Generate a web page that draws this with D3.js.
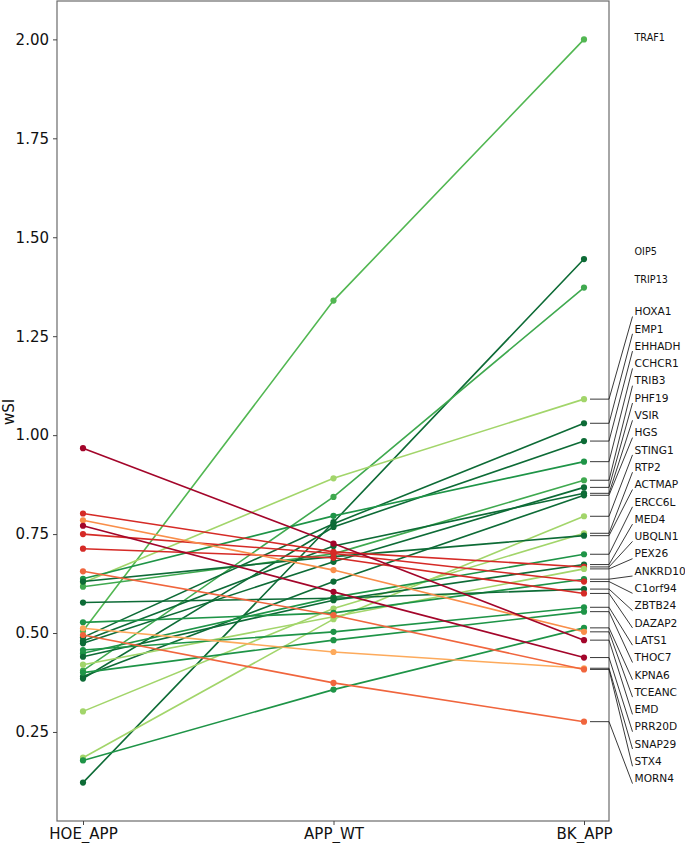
<!DOCTYPE html>
<html>
<head>
<meta charset="utf-8">
<script src="https://cdn.jsdelivr.net/npm/d3@7"></script>
<style>
  body { margin: 0; background: #fff; }
  text { font-family: "DejaVu Sans", sans-serif; }
</style>
</head>
<body>
<div id="wrapper"></div>
<script>
// 1. Data

const conditions = ["HOE_APP", "APP_WT", "BK_APP"];

const genes = [
  "TRAF1", "OIP5", "TRIP13", "HOXA1", "EMP1", "EHHADH", "CCHCR1", "TRIB3",
  "PHF19", "VSIR", "HGS", "STING1", "RTP2", "ACTMAP", "ERCC6L", "MED4",
  "UBQLN1", "PEX26", "ANKRD10", "C1orf94", "ZBTB24", "DAZAP2", "LATS1",
  "THOC7", "KPNA6", "TCEANC", "EMD", "PRR20D", "SNAP29", "STX4", "MORN4"
];

const hoeApp = [
  0.505, 0.122, 0.405, 0.627, 0.489, 0.385, 0.637, 0.617,
  0.474, 0.480, 0.390, 0.185, 0.302, 0.630, 0.449, 0.440,
  0.802, 0.420, 0.527, 0.750, 0.577, 0.713, 0.457,
  0.400, 0.178, 0.785, 0.967, 0.771, 0.512, 0.656, 0.495
];

const appWt = [
  1.340, 0.780, 0.844, 0.891, 0.776, 0.768, 0.796, 0.700,
  0.680, 0.720, 0.630, 0.535, 0.562, 0.693, 0.590, 0.583,
  0.705, 0.541, 0.551, 0.701, 0.588, 0.690, 0.503,
  0.482, 0.357, 0.659, 0.726, 0.604, 0.452, 0.545, 0.374
];

const bkApp = [
  2.000, 1.445, 1.373, 1.091, 1.030, 0.985, 0.933, 0.886,
  0.868, 0.853, 0.848, 0.795, 0.752, 0.746, 0.699, 0.673,
  0.667, 0.662, 0.636, 0.630, 0.611, 0.600, 0.565,
  0.554, 0.513, 0.503, 0.482, 0.438, 0.411, 0.408, 0.276
];

const yTicks = [0.25, 0.5, 0.75, 1.0, 1.25, 1.5, 1.75, 2.0];

// line colours (styling, kept apart from the values)
const palette = {
  dg: "#0d6b36", g: "#1e9447", mg: "#3fa94f", tg: "#52b752", lg: "#a2d56a",
  dr: "#a3052a", r: "#d52a26", or: "#f0653d", o: "#f98e4a", lo: "#fdaa5c"
};
const geneColor = {
  TRAF1: "tg", OIP5: "dg", TRIP13: "mg", HOXA1: "lg", EMP1: "dg", EHHADH: "dg",
  CCHCR1: "g", TRIB3: "mg", PHF19: "dg", VSIR: "dg", HGS: "dg", STING1: "lg",
  RTP2: "lg", ACTMAP: "dg", ERCC6L: "g", MED4: "dg", UBQLN1: "r", PEX26: "lg",
  ANKRD10: "g", C1orf94: "r", ZBTB24: "dg", DAZAP2: "r", LATS1: "g", THOC7: "g",
  KPNA6: "g", TCEANC: "o", EMD: "dr", PRR20D: "dr", SNAP29: "lo", STX4: "or",
  MORN4: "or"
};

const dataset = genes.map((gene, i) => ({
  gene,
  values: [hoeApp[i], appWt[i], bkApp[i]],
}));

// 2. Dimensions

let dimensions = {
  width: 685,
  height: 843,
  margin: { top: 1, right: 76, bottom: 22, left: 57 },
};
dimensions.boundedWidth = dimensions.width - dimensions.margin.left - dimensions.margin.right;
dimensions.boundedHeight = dimensions.height - dimensions.margin.top - dimensions.margin.bottom;

// 3. Canvas

const wrapper = d3.select("#wrapper")
  .append("svg")
    .attr("width", dimensions.width)
    .attr("height", dimensions.height);

const bounds = wrapper.append("g")
    .attr("transform", `translate(${dimensions.margin.left}, ${dimensions.margin.top})`);

// 4. Scales

const xScale = d3.scalePoint()
  .domain(conditions)
  .range([26, dimensions.boundedWidth - 25]);

const yScale = d3.scaleLinear()
  .domain([0.025, 2.097])
  .range([dimensions.boundedHeight, 0]);

const lineGenerator = d3.line()
  .x((d, i) => xScale(conditions[i]))
  .y(d => yScale(d));

// 5. Data

const series = bounds.append("g")
  .selectAll("g")
  .data(dataset)
  .join("g")
    .attr("fill", d => palette[geneColor[d.gene]])
    .attr("stroke", d => palette[geneColor[d.gene]]);

series.append("path")
    .attr("d", d => lineGenerator(d.values))
    .attr("fill", "none")
    .attr("stroke-width", 1.6);

series.selectAll("circle")
  .data(d => d.values)
  .join("circle")
    .attr("cx", (d, i) => xScale(conditions[i]))
    .attr("cy", d => yScale(d))
    .attr("r", 3.1)
    .attr("stroke", "none");

// frame
bounds.append("rect")
    .attr("width", dimensions.boundedWidth)
    .attr("height", dimensions.boundedHeight)
    .attr("fill", "none")
    .attr("stroke", "#6b6b6b")
    .attr("stroke-width", 1.2);

// 6. Axes

const yAxisGenerator = d3.axisLeft(yScale)
  .tickValues(yTicks)
  .tickFormat(d3.format(".2f"))
  .tickSizeOuter(0)
  .tickSize(4)
  .tickPadding(4);

const yAxis = bounds.append("g").call(yAxisGenerator);
yAxis.select(".domain").remove();
yAxis.selectAll("line").attr("stroke", "#444");
yAxis.selectAll("text")
    .attr("font-size", 15)
    .attr("font-family", "DejaVu Sans")
    .attr("fill", "#111");

const xAxisGenerator = d3.axisBottom(xScale)
  .tickSizeOuter(0)
  .tickSize(4)
  .tickPadding(3);

const xAxis = bounds.append("g")
    .attr("transform", `translate(0, ${dimensions.boundedHeight})`)
    .call(xAxisGenerator);
xAxis.select(".domain").remove();
xAxis.selectAll("line").attr("stroke", "#444");
xAxis.selectAll("text")
    .attr("font-size", 15)
    .attr("font-family", "DejaVu Sans")
    .attr("fill", "#111");

wrapper.append("text")
    .attr("transform", `translate(14, 412) rotate(-90)`)
    .attr("text-anchor", "middle")
    .attr("font-size", 15)
    .attr("fill", "#111")
    .text("wSI");

// 7. Gene labels on the right (first three sit by their point, the rest are stacked with leaders)

const bkX = xScale("BK_APP");
const frameRight = dimensions.boundedWidth;
const labelX = frameRight + 25.5;
const freeLabels = 3;
const stackTop = 311.5 - dimensions.margin.top;
const stackStep = 17.3;

const labels = bounds.append("g");

dataset.forEach((d, i) => {
  const pointY = yScale(d.values[2]);
  if (i < freeLabels) {
    labels.append("text")
        .attr("x", labelX)
        .attr("y", pointY - (i === 0 ? 1.5 : 7.5))
        .attr("dy", "0.35em")
        .attr("font-size", 9.6)
        .attr("fill", "#111")
        .text(d.gene);
    return;
  }
  const labelY = stackTop + (i - freeLabels) * stackStep;
  labels.append("path")
      .attr("d", `M${bkX + 6},${pointY}H${frameRight}L${labelX - 2},${labelY + 5}`)
      .attr("fill", "none")
      .attr("stroke", "#222")
      .attr("stroke-width", 0.9);
  labels.append("text")
      .attr("x", labelX)
      .attr("y", labelY)
      .attr("dy", "0.35em")
      .attr("font-size", 10.6)
      .attr("fill", "#111")
      .text(d.gene);
});
</script>
</body>
</html>
